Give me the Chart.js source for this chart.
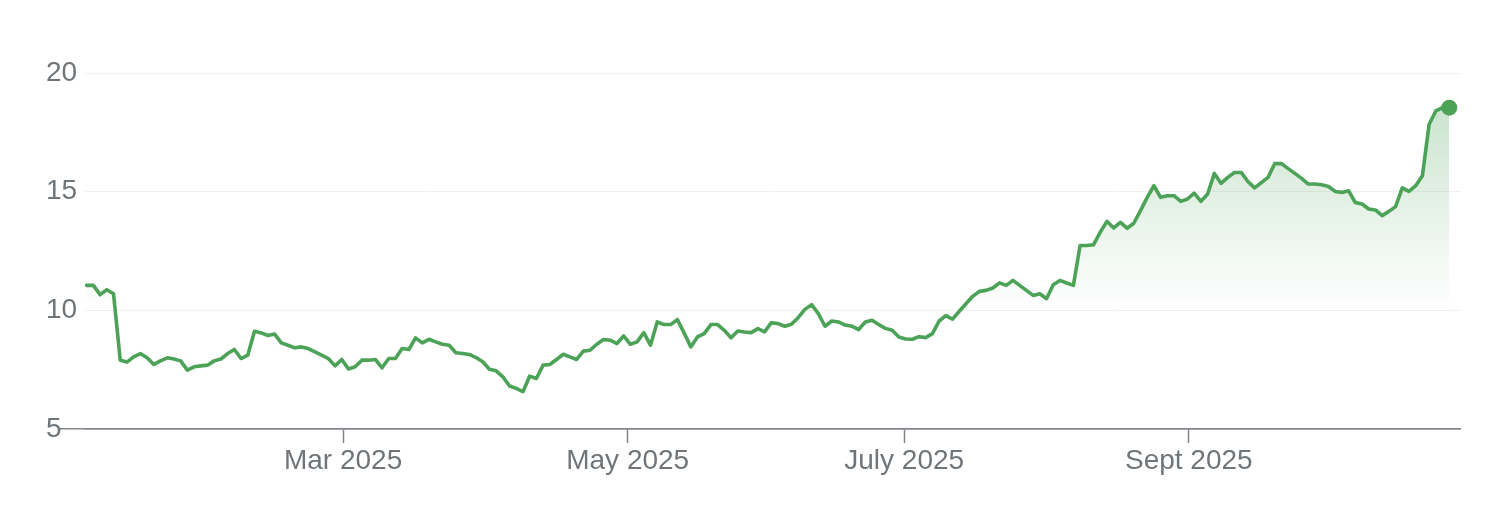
<!DOCTYPE html>
<html>
<head>
<meta charset="utf-8">
<script src="https://cdn.jsdelivr.net/npm/chart.js@4.4.1/dist/chart.umd.min.js"></script>
<style>
  html, body { margin: 0; padding: 0; background: #fff; }
  #wrap { width: 1512px; height: 524px; }
</style>
</head>
<body>
<div id="wrap"><canvas id="priceChart" width="1512" height="524"></canvas></div>
<script>
// daily closes, one per trading day
let prices = [
  11.05, 11.05, 10.66, 10.87, 10.70, 7.90, 7.82, 8.04, 8.18, 8.00,
  7.72, 7.87, 8.00, 7.95, 7.87, 7.48, 7.62, 7.66, 7.69, 7.87,
  7.95, 8.18, 8.35, 7.97, 8.11, 9.12, 9.05, 8.94, 9.00, 8.63,
  8.53, 8.42, 8.46, 8.39, 8.25, 8.11,
  7.97, 7.66, 7.93, 7.53, 7.62, 7.90, 7.90, 7.93, 7.58, 7.97,
  7.97, 8.39, 8.35, 8.84, 8.63, 8.78, 8.67, 8.57, 8.53, 8.21,
  8.18, 8.14, 8.01, 7.83, 7.52, 7.45, 7.20, 6.81, 6.71, 6.57,
  7.23, 7.13, 7.69, 7.72,
  7.93, 8.15, 8.04, 7.93, 8.28, 8.32, 8.57, 8.77, 8.74, 8.60,
  8.92, 8.57, 8.67, 9.06, 8.53, 9.51, 9.40, 9.40, 9.61, 9.05,
  8.46, 8.88, 9.02, 9.40, 9.40, 9.16, 8.84, 9.13, 9.09, 9.06,
  9.23, 9.09, 9.48, 9.44,
  9.33, 9.41, 9.69, 10.04, 10.24, 9.86, 9.33, 9.55, 9.51, 9.38,
  9.33, 9.19, 9.51, 9.58, 9.40, 9.24, 9.16, 8.88, 8.79, 8.78,
  8.89, 8.85, 9.02, 9.55, 9.78, 9.63, 9.96, 10.28, 10.59, 10.80,
  10.84, 10.94, 11.16, 11.05,
  11.26, 11.05, 10.84, 10.63, 10.70, 10.49, 11.08, 11.26, 11.15, 11.05,
  12.73, 12.73, 12.76, 13.29, 13.75, 13.47, 13.71, 13.46, 13.67, 14.20,
  14.76, 15.25, 14.76, 14.83, 14.83, 14.59, 14.69, 14.94, 14.59, 14.90,
  15.77, 15.35, 15.60, 15.81,
  15.81, 15.43, 15.16, 15.38, 15.60, 16.19, 16.18, 15.97, 15.77, 15.56,
  15.32, 15.32, 15.29, 15.22, 15.01, 14.97, 15.04, 14.54, 14.48, 14.27,
  14.23, 13.99, 14.17, 14.37, 15.16, 15.01, 15.25, 15.67, 17.84, 18.40,
  18.54, 18.54
];

// trading-day position where each month starts
let monthStarts = [38.2, 80.6, 121.8, 164.2];
let monthLabels = ['Mar 2025', 'May 2025', 'July 2025', 'Sept 2025'];
let yTicks = [5, 10, 15, 20];

let lineGreen = '#4ca257';
let axisGrey = '#80868b';
let textGrey = '#70757a';
let labelFont = { family: '"Liberation Sans", Arial, sans-serif', size: 28 };

let points = prices.map((v, i) => ({ x: i, y: v }));
let lastIdx = prices.length - 1;

let myChart = document.getElementById('priceChart').getContext('2d');

let chart = new Chart(myChart, {
  type: 'line',
  data: {
    datasets: [{
      data: points,
      borderColor: lineGreen,
      borderWidth: 3.6,
      borderJoinStyle: 'round',
      borderCapStyle: 'round',
      tension: 0,
      fill: 'start',
      backgroundColor: function(c) {
        let area = c.chart.chartArea;
        if (!area) return 'rgba(0,0,0,0)';
        let ys = c.chart.scales.y;
        let g = c.chart.ctx.createLinearGradient(0, ys.getPixelForValue(19), 0, ys.getPixelForValue(10));
        g.addColorStop(0, 'rgba(76,162,87,0.30)');
        g.addColorStop(1, 'rgba(76,162,87,0)');
        return g;
      },
      pointRadius: c => c.dataIndex === lastIdx ? 8 : 0,
      pointBackgroundColor: lineGreen,
      pointBorderWidth: 0
    }]
  },
  options: {
    responsive: false,
    animation: false,
    events: [],
    layout: { padding: { left: 46, right: 52, top: 73, bottom: 0 } },
    plugins: {
      legend: { display: false },
      tooltip: { enabled: false }
    },
    scales: {
      x: {
        type: 'linear',
        min: -0.25,
        max: 204.6,
        afterBuildTicks: s => { s.ticks = monthStarts.map(v => ({ value: v })); },
        afterFit: s => { s.height = 95; },
        ticks: {
          callback: (v, i) => monthLabels[i],
          font: labelFont,
          color: textGrey,
          padding: 1,
          maxRotation: 0,
          autoSkip: false
        },
        grid: {
          drawOnChartArea: false,
          drawTicks: true,
          tickLength: 14,
          tickColor: axisGrey,
          tickWidth: 1.5
        },
        border: { display: true, color: axisGrey, width: 1.5 }
      },
      y: {
        min: 5,
        max: 20,
        afterBuildTicks: s => { s.ticks = yTicks.map(v => ({ value: v })); },
        afterFit: s => { s.width = 39; },
        ticks: {
          crossAlign: 'far',
          font: labelFont,
          color: textGrey,
          padding: 0
        },
        grid: {
          color: c => (c.tick && c.tick.value === 5) ? axisGrey : '#f1f1f1',
          lineWidth: c => (c.tick && c.tick.value === 5) ? 1.5 : 1,
          tickLength: 25,
          tickColor: c => (c.tick && c.tick.value === 5) ? axisGrey : 'rgba(0,0,0,0)',
          tickWidth: 1.5
        },
        border: { display: false }
      }
    }
  }
});
</script>
</body>
</html>
